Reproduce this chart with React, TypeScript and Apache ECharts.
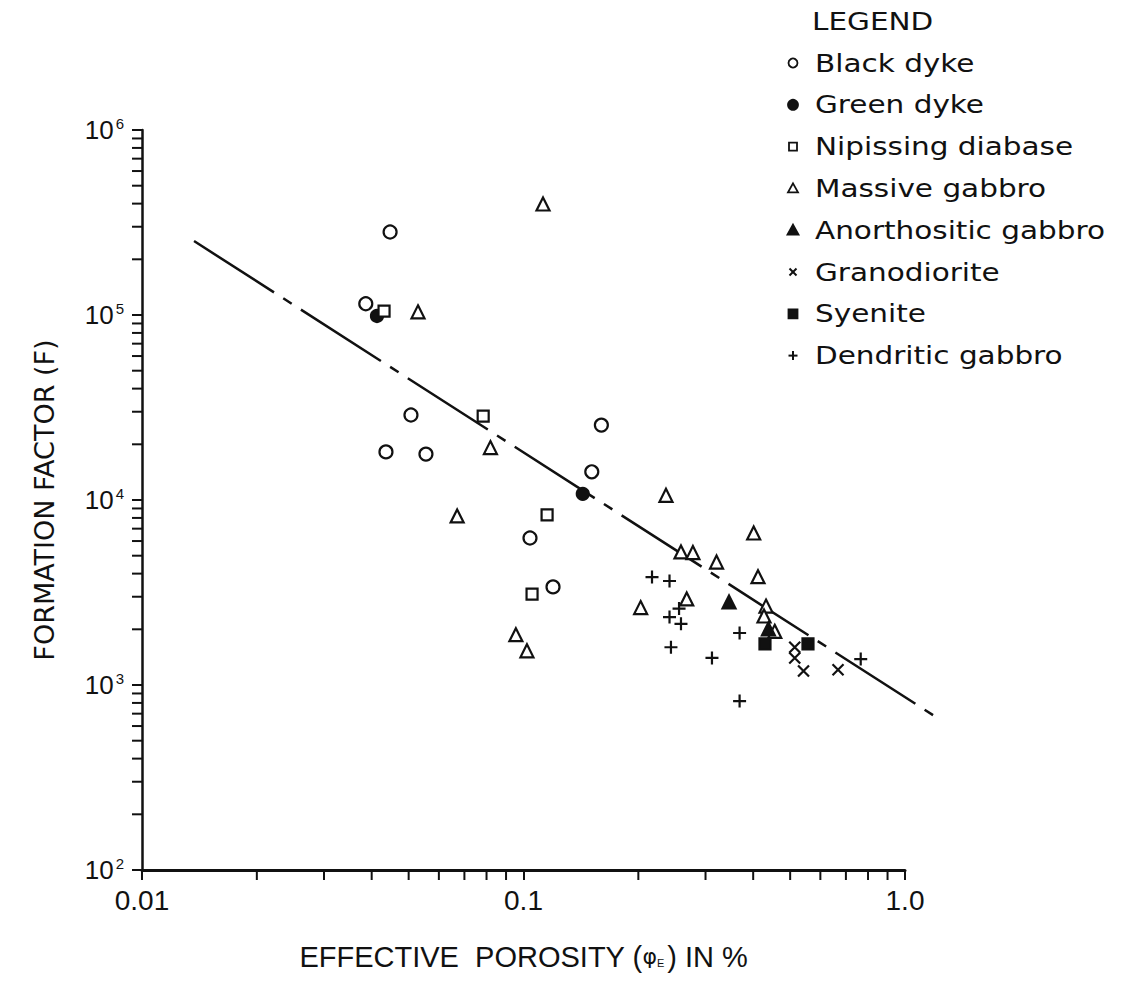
import React, { useEffect, useRef } from 'react';
import * as echarts from 'echarts';

// ---- Axis ticks / labels ----
const xTickLabels = ['0.01', '0.1', '1.0'];
const xMinorTicks = [0.02, 0.03, 0.04, 0.05, 0.06, 0.07, 0.08, 0.09, 0.2, 0.3, 0.4, 0.5, 0.6, 0.7, 0.8, 0.9];
const yMinorTicks = [
  200, 300, 400, 500, 600, 700, 800, 900,
  2000, 3000, 4000, 5000, 6000, 7000, 8000, 9000,
  20000, 30000, 40000, 50000, 60000, 70000, 80000, 90000,
  200000, 300000, 400000, 500000, 600000, 700000, 800000, 900000,
];

// ---- Data: [effective porosity %, formation factor] ----
const blackDyke = [
  [0.0447, 281000], [0.0386, 115000], [0.0507, 28800], [0.0436, 18200], [0.0555, 17700],
  [0.160, 25400], [0.151, 14200], [0.104, 6230], [0.1195, 3390],
];
const greenDyke = [[0.0413, 98800], [0.143, 10800]];
const nipissingDiabase = [[0.0431, 105000], [0.0784, 28400], [0.1153, 8300], [0.1053, 3100]];
const massiveGabbro = [
  [0.1125, 398000], [0.0529, 104000], [0.0819, 19200], [0.067, 8200], [0.0955, 1870],
  [0.1021, 1530], [0.2363, 10600], [0.2587, 5240], [0.278, 5200], [0.3206, 4620],
  [0.4012, 6630], [0.4118, 3850], [0.4322, 2670], [0.427, 2360], [0.4556, 1950],
  [0.2678, 2920], [0.2028, 2620],
];
const anorthositicGabbro = [[0.3457, 2810], [0.4385, 2010]];
const granodiorite = [[0.514, 1600], [0.514, 1400], [0.542, 1190], [0.6675, 1210]];
const syenite = [[0.4295, 1670], [0.5568, 1670]];
const dendriticGabbro = [
  [0.2172, 3830], [0.2414, 3650], [0.2557, 2590], [0.2414, 2330], [0.2587, 2140],
  [0.2435, 1600], [0.3685, 1910], [0.3119, 1400], [0.3685, 819], [0.7655, 1380],
];
// fitted line: start point and end point
const fitStart = [0.01369, 251000];
const fitEnd = [1.25, 640];

const seriesNames = [
  'Black dyke', 'Green dyke', 'Nipissing diabase', 'Massive gabbro',
  'Anorthositic gabbro', 'Granodiorite', 'Syenite', 'Dendritic gabbro',
];

const INK = '#111';
const XMARK = 'path://M0,0L10,10M10,0L0,10';
const PLUS = 'path://M5,0L5,10M0,5L10,5';

function App() {
  const ref = useRef<HTMLDivElement>(null);

  useEffect(() => {
    if (!ref.current) return;
    const chart = echarts.init(ref.current, undefined, { renderer: 'svg' });

    const seriesData = [
      blackDyke, greenDyke, nipissingDiabase, massiveGabbro,
      anorthositicGabbro, granodiorite, syenite, dendriticGabbro,
    ];
    const symbolDefs = [
      { symbol: 'circle', size: 13, fill: '#fff' },
      { symbol: 'circle', size: 12, fill: INK },
      { symbol: 'rect', size: 11, fill: '#fff' },
      { symbol: 'triangle', size: 13, fill: '#fff' },
      { symbol: 'triangle', size: 13, fill: INK },
      { symbol: XMARK, size: 11, fill: 'rgba(0,0,0,0)' },
      { symbol: 'rect', size: 11, fill: INK },
      { symbol: PLUS, size: 13, fill: 'rgba(0,0,0,0)' },
    ];

    const scatterSeries = seriesNames.map((name, i) => ({
      name,
      type: 'scatter',
      data: seriesData[i],
      symbol: symbolDefs[i].symbol,
      symbolSize: symbolDefs[i].size,
      itemStyle: { color: symbolDefs[i].fill, borderColor: INK, borderWidth: 2.2, opacity: 1 },
      z: 5,
    }));

    const TICK = 10;
    const xMinorSeries = {
      type: 'custom',
      silent: true,
      data: xMinorTicks.map((v) => [v, 100]),
      renderItem: (params: any, api: any) => {
        const p = api.coord([api.value(0), api.value(1)]);
        return {
          type: 'line',
          shape: { x1: p[0], y1: p[1], x2: p[0], y2: p[1] + TICK },
          style: { stroke: INK, lineWidth: 2 },
        };
      },
      z: 3,
    };
    const yMinorSeries = {
      type: 'custom',
      silent: true,
      data: yMinorTicks.map((v) => [0.01, v]),
      renderItem: (params: any, api: any) => {
        const p = api.coord([api.value(0), api.value(1)]);
        return {
          type: 'line',
          shape: { x1: p[0] - TICK, y1: p[1], x2: p[0], y2: p[1] },
          style: { stroke: INK, lineWidth: 2 },
        };
      },
      z: 3,
    };
    const fitSeries = {
      name: 'fit',
      type: 'custom',
      silent: true,
      clip: false,
      data: [[fitStart[0], fitStart[1], fitEnd[0], fitEnd[1]]],
      encode: { x: [0, 2], y: [1, 3] },
      renderItem: (params: any, api: any) => {
        const p1 = api.coord([api.value(0), api.value(1)]);
        const p2 = api.coord([api.value(2), api.value(3)]);
        return {
          type: 'line',
          shape: { x1: p1[0], y1: p1[1], x2: p2[0], y2: p2[1] },
          style: { stroke: INK, lineWidth: 2.5, lineDash: [95, 11, 10, 11] },
        };
      },
      z: 2,
    };

    // Legend drawn as graphic
    const LX = 793;
    const TX = 815;
    const Y0 = 63;
    const DY = 41.8;
    const legendFont = { fontSize: 25, fontFamily: 'DejaVu Sans', fill: INK };
    const markerFor = (i: number, cy: number): any => {
      const st = { stroke: INK, lineWidth: 1.8 };
      switch (i) {
        case 0: return { type: 'circle', shape: { cx: LX, cy, r: 4.5 }, style: { ...st, fill: '#fff' } };
        case 1: return { type: 'circle', shape: { cx: LX, cy, r: 5 }, style: { ...st, fill: INK } };
        case 2: return { type: 'rect', shape: { x: LX - 4, y: cy - 4, width: 8, height: 8 }, style: { ...st, fill: '#fff' } };
        case 3: return { type: 'polygon', shape: { points: [[LX, cy - 5], [LX + 5, cy + 4], [LX - 5, cy + 4]] }, style: { ...st, fill: '#fff' } };
        case 4: return { type: 'polygon', shape: { points: [[LX, cy - 5.5], [LX + 5.5, cy + 4.5], [LX - 5.5, cy + 4.5]] }, style: { ...st, fill: INK } };
        case 5: return {
          type: 'group', children: [
            { type: 'line', shape: { x1: LX - 3.5, y1: cy - 3.5, x2: LX + 3.5, y2: cy + 3.5 }, style: { ...st, lineWidth: 2 } },
            { type: 'line', shape: { x1: LX + 3.5, y1: cy - 3.5, x2: LX - 3.5, y2: cy + 3.5 }, style: { ...st, lineWidth: 2 } },
          ],
        };
        case 6: return { type: 'rect', shape: { x: LX - 4.5, y: cy - 4.5, width: 9, height: 9 }, style: { ...st, fill: INK } };
        default: return {
          type: 'group', children: [
            { type: 'line', shape: { x1: LX - 4.5, y1: cy, x2: LX + 4.5, y2: cy }, style: { ...st, lineWidth: 2 } },
            { type: 'line', shape: { x1: LX, y1: cy - 4.5, x2: LX, y2: cy + 4.5 }, style: { ...st, lineWidth: 2 } },
          ],
        };
      }
    };
    const legendElements: any[] = [
      {
        type: 'text', x: 812, y: 21, scaleX: 1.18,
        style: { text: 'LEGEND', ...legendFont, verticalAlign: 'middle', align: 'left' },
      },
    ];
    seriesNames.forEach((name, i) => {
      const cy = Y0 + i * DY;
      legendElements.push(markerFor(i, cy));
      legendElements.push({
        type: 'text', x: TX, y: cy, scaleX: 1.18,
        style: { text: name, ...legendFont, verticalAlign: 'middle', align: 'left' },
      });
    });

    const option: any = {
      animation: false,
      backgroundColor: '#fff',
      grid: { left: 142, top: 130, right: 223, bottom: 112, containLabel: false },
      xAxis: {
        type: 'log',
        logBase: 10,
        min: 0.01,
        max: 1,
        axisLine: { show: true, onZero: false, lineStyle: { color: INK, width: 3 } },
        axisTick: { show: true, inside: false, length: TICK, lineStyle: { color: INK, width: 2 } },
        splitLine: { show: false },
        minorTick: { show: false },
        axisLabel: {
          margin: 16,
          color: INK,
          fontSize: 28,
          fontFamily: 'Liberation Sans',
          formatter: (v: number) => xTickLabels[Math.round(Math.log10(v)) + 2],
        },
        name: '{t|EFFECTIVE  POROSITY (}{p|φ}{e|E}{t|) IN %}',
        nameLocation: 'middle',
        nameGap: 72,
        nameTextStyle: {
          color: INK,
          rich: {
            t: { fontSize: 29, fontFamily: 'Liberation Sans', color: INK },
            p: { fontSize: 22, fontFamily: 'DejaVu Sans', color: INK },
            e: { fontSize: 11, fontFamily: 'Liberation Sans', color: INK, padding: [12, 3, 0, 0] },
          },
        },
      },
      yAxis: {
        type: 'log',
        logBase: 10,
        min: 100,
        max: 1000000,
        axisLine: { show: true, onZero: false, lineStyle: { color: INK, width: 2.5 } },
        axisTick: { show: true, inside: false, length: TICK, lineStyle: { color: INK, width: 2 } },
        splitLine: { show: false },
        minorTick: { show: false },
        axisLabel: {
          margin: 18,
          color: INK,
          formatter: (v: number) => `{b|10}{s|${Math.round(Math.log10(v))}}`,
          rich: {
            b: { fontSize: 26, fontFamily: 'Liberation Sans', color: INK },
            s: { fontSize: 15, fontFamily: 'Liberation Sans', color: INK, padding: [0, 0, 13, 2] },
          },
        },
        name: 'FORMATION FACTOR (F)',
        nameLocation: 'middle',
        nameRotate: 90,
        nameGap: 84,
        nameTextStyle: { color: INK, fontSize: 27, fontFamily: 'DejaVu Sans' },
      },
      series: [
        fitSeries,
        xMinorSeries,
        yMinorSeries,
        ...scatterSeries,
      ],
      graphic: legendElements,
    };

    chart.setOption(option);
    return () => chart.dispose();
  }, []);

  return (
    <div
      ref={ref}
      style={{ position: 'absolute', left: 0, top: 0, width: 1128, height: 982, background: '#fff' }}
    />
  );
}

export default App;
